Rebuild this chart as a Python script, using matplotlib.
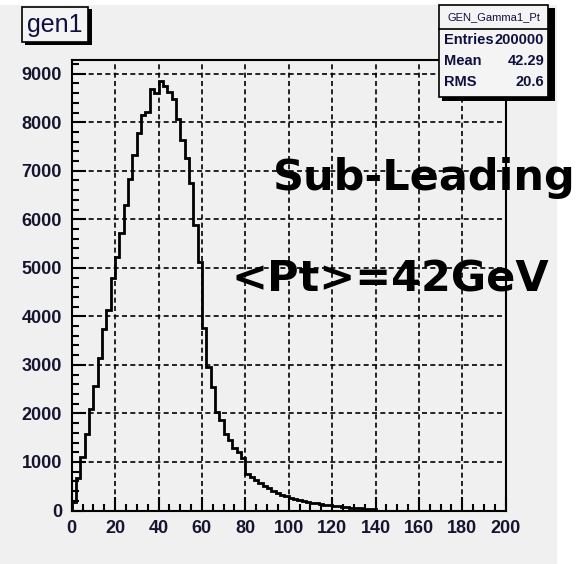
import matplotlib.pyplot as plt
from matplotlib.patches import Rectangle
import numpy as np

W, H = 580, 564

# histogram GEN_Gamma1_Pt, 100 bins of width 2 from 0 to 200
bin_edges = np.arange(0, 202, 2)
counts = [180, 660, 1110, 1570, 2100, 2570, 3140, 3730, 4140, 4800,
          5220, 5720, 6290, 6840, 7320, 7770, 8140, 8210, 8680, 8610,
          8840, 8740, 8630, 8480, 8060, 7630, 7260, 6740, 5880, 5110,
          3770, 2960, 2550, 2020, 1860, 1580, 1460, 1290, 1210, 1080,
          750, 680, 620, 570, 500, 460, 410, 360, 320, 290,
          250, 230, 210, 190, 175, 160, 145, 130, 118, 105,
          95, 85, 75, 67, 60, 50, 44, 38, 33, 28] + [0] * 30

x_ticks = list(range(0, 201, 20))
y_ticks = list(range(0, 9001, 1000))

hist_title = "gen1"
hist_name = "GEN_Gamma1_Pt"
stat_names = ["Entries", "Mean", "RMS"]
stat_values = ["200000", "42.29", "20.6"]

bg = "#f0f0f0"


def fx(px):
    return px / W


def fy(py):
    return 1 - py / H


fig = plt.figure(figsize=(W / 100, H / 100), dpi=100)
fig.patch.set_facecolor(bg)
# white strips at the top and right edge of the screenshot
fig.patches.append(Rectangle((fx(557), 0), 1, 1, transform=fig.transFigure,
                             facecolor="white", edgecolor="none", zorder=0))
fig.patches.append(Rectangle((0, fy(5)), 1, 1, transform=fig.transFigure,
                             facecolor="white", edgecolor="none", zorder=0))

ax = fig.add_axes([fx(71.7), fy(510.5), fx(505.7) - fx(71.7), fy(60) - fy(510.5)])
ax.set_facecolor(bg)
ax.stairs(counts, bin_edges, color="black", lw=2)

ax.set_xlim(0, 200)
ax.set_ylim(0, 1.05 * max(counts))
ax.set_xticks(x_ticks)
ax.set_yticks(y_ticks)
ax.set_xticks(np.arange(0, 201, 5), minor=True)
ax.set_yticks(np.arange(0, 9201, 200), minor=True)
ax.tick_params(which="both", direction="in", color="black", width=1.5)
ax.tick_params(which="major", length=10)
ax.tick_params(which="minor", length=5)
ax.tick_params(axis="x", which="major", pad=7)
ax.tick_params(axis="y", which="major", pad=7)
for lab in ax.get_xticklabels() + ax.get_yticklabels():
    lab.set_fontfamily("Liberation Sans")
    lab.set_fontweight("bold")
    lab.set_fontsize(13)
    lab.set_color("#151530")
ax.grid(True, color="black", linestyle=(0, (3, 2)), lw=1.2)
for s in ax.spines.values():
    s.set_linewidth(1.5)

# title box with shadow
fig.patches.append(Rectangle((fx(25), fy(45)), fx(92) - fx(25), fy(9) - fy(45), transform=fig.transFigure,
                             facecolor="black", edgecolor="none", zorder=3))
fig.patches.append(Rectangle((fx(22), fy(42)), fx(88) - fx(22), fy(7) - fy(42), transform=fig.transFigure,
                             facecolor="#f4f4f4", edgecolor="black", lw=1.2, zorder=4))
fig.text(fx(55), fy(25), hist_title, ha="center", va="center", fontsize=18,
         family="Liberation Sans", color="#101040", zorder=5)

# stats box with shadow
fig.patches.append(Rectangle((fx(442), fy(101)), fx(555) - fx(442), fy(8) - fy(101), transform=fig.transFigure,
                             facecolor="black", edgecolor="none", zorder=3))
fig.patches.append(Rectangle((fx(439), fy(97)), fx(548) - fx(439), fy(5) - fy(97), transform=fig.transFigure,
                             facecolor="#f4f4f4", edgecolor="black", lw=1.2, zorder=4))
fig.lines.append(plt.Line2D([fx(439), fx(548)], [fy(29), fy(29)], transform=fig.transFigure,
                            color="black", lw=1.2, zorder=5))
fig.text(fx(494), fy(17), hist_name, ha="center", va="center", fontsize=8,
         family="Liberation Sans", color="#101040", zorder=5)
for i, (n, v) in enumerate(zip(stat_names, stat_values)):
    yy = fy(40 + i * 21)
    fig.text(fx(444), yy, n, ha="left", va="center", fontsize=10.5, fontweight="bold",
             family="Liberation Sans", color="#101040", zorder=5)
    fig.text(fx(544), yy, v, ha="right", va="center", fontsize=10.5, fontweight="bold",
             family="Liberation Sans", color="#101040", zorder=5)

# annotations on the slide
fig.text(fx(273), fy(190), "Sub-Leading", ha="left", va="baseline", fontsize=31,
         fontweight="bold", family="DejaVu Sans", color="black", zorder=6)
fig.text(fx(232), fy(291), "<Pt>=42GeV", ha="left", va="baseline", fontsize=31,
         fontweight="bold", family="DejaVu Sans", color="black", zorder=6)

fig.savefig("out.png", dpi=100, facecolor=fig.get_facecolor())
